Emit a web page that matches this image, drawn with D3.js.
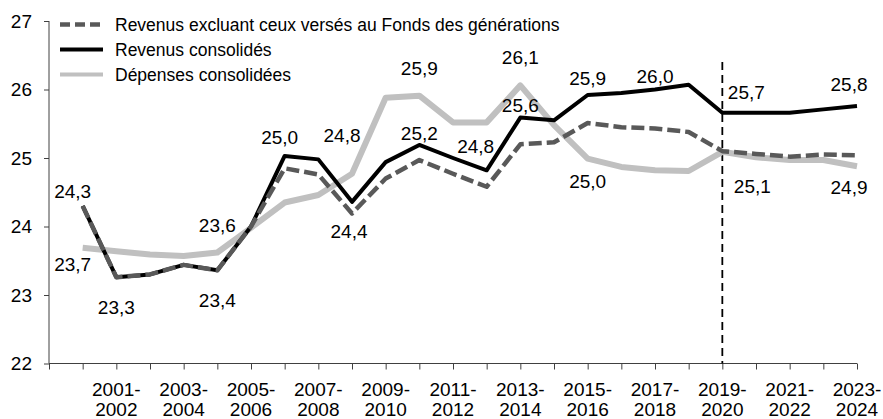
<!DOCTYPE html>
<html>
<head>
<meta charset="utf-8">
<script src="https://cdn.jsdelivr.net/npm/d3@7"></script>
<style>
  html, body { margin: 0; padding: 0; background: #fff; }
  svg { display: block; font-family: "Liberation Sans", Arial, Helvetica, sans-serif; }
</style>
</head>
<body>
<svg id="chart" width="883" height="419"></svg>
<script>
// Exercices budgétaires (en % du PIB)
const categories = [
  "2000-2001", "2001-2002", "2002-2003", "2003-2004", "2004-2005", "2005-2006",
  "2006-2007", "2007-2008", "2008-2009", "2009-2010", "2010-2011", "2011-2012",
  "2012-2013", "2013-2014", "2014-2015", "2015-2016", "2016-2017", "2017-2018",
  "2018-2019", "2019-2020", "2020-2021", "2021-2022", "2022-2023", "2023-2024"
];

const revenusExcluantFG = [
  24.30, 23.26, 23.30, 23.44, 23.36, 24.00, 24.85, 24.76, 24.19, 24.70, 24.97, 24.77,
  24.58, 25.20, 25.23, 25.51, 25.45, 25.43, 25.38, 25.10, 25.06, 25.02, 25.05, 25.04
];
const revenusConsolides = [
  24.30, 23.26, 23.30, 23.44, 23.36, 24.00, 25.03, 24.98, 24.36, 24.94, 25.19, 25.00,
  24.82, 25.59, 25.55, 25.92, 25.95, 26.00, 26.07, 25.66, 25.66, 25.66, 25.71, 25.76
];
const depensesConsolidees = [
  23.69, 23.64, 23.59, 23.57, 23.62, 23.98, 24.35, 24.46, 24.77, 25.88, 25.91, 25.52,
  25.52, 26.06, 25.48, 24.99, 24.87, 24.82, 24.81, 25.09, 25.01, 24.97, 24.97, 24.88
];

const seriesNames = [
  "Revenus excluant ceux versés au Fonds des générations",
  "Revenus consolidés",
  "Dépenses consolidées"
];

const yTicks = [22, 23, 24, 25, 26, 27];
// Years shown under the axis (every second year)
const xTickLabels = [
  "2001-2002", "2003-2004", "2005-2006", "2007-2008", "2009-2010", "2011-2012",
  "2013-2014", "2015-2016", "2017-2018", "2019-2020", "2021-2022", "2023-2024"
];
// Start of the forecast period
const forecastStart = "2019-2020";
const forecastLineTop = 26.4;

// Which points carry a value label, and where the label sits around its point
const labelled = [
  { s: 1, year: "2000-2001", dx: -10, dy: -8 },
  { s: 2, year: "2000-2001", dx: -10, dy: 23 },
  { s: 1, year: "2001-2002", dx: 0, dy: 37 },
  { s: 2, year: "2004-2005", dx: 0, dy: -21 },
  { s: 1, year: "2004-2005", dx: 0, dy: 37 },
  { s: 1, year: "2006-2007", dx: -5, dy: -12 },
  { s: 2, year: "2008-2009", dx: -10, dy: -32 },
  { s: 1, year: "2008-2009", dx: -3, dy: 36 },
  { s: 2, year: "2010-2011", dx: 0, dy: -21 },
  { s: 1, year: "2010-2011", dx: 0, dy: -5 },
  { s: 1, year: "2012-2013", dx: -11, dy: -17 },
  { s: 2, year: "2013-2014", dx: 0, dy: -21 },
  { s: 1, year: "2013-2014", dx: 0, dy: -6 },
  { s: 1, year: "2015-2016", dx: 0, dy: -10 },
  { s: 2, year: "2015-2016", dx: 0, dy: 29 },
  { s: 1, year: "2017-2018", dx: 0, dy: -7 },
  { s: 1, year: "2019-2020", dx: 24, dy: -14 },
  { s: 2, year: "2019-2020", dx: 30, dy: 41 },
  { s: 1, year: "2023-2024", dx: -8, dy: -15 },
  { s: 2, year: "2023-2024", dx: -8, dy: 28 }
];

const allSeries = [revenusExcluantFG, revenusConsolides, depensesConsolidees];
const seriesStyle = [
  { color: "#595959", width: 4.5, dash: "13,5", legendWidth: 4.5, legendDash: "10,5" },
  { color: "#000000", width: 4, dash: null, legendWidth: 4, legendDash: null },
  { color: "#c0c0c0", width: 6, dash: null, legendWidth: 4, legendDash: null }
];

const svg = d3.select("#chart");
const plotLeft = 49, plotRight = 857, plotTop = 21, plotBottom = 363.5;

// A leading empty slot keeps the first year one step right of the value axis
const x = d3.scalePoint().domain([""].concat(categories)).range([plotLeft, plotRight]).padding(0);
const y = d3.scaleLinear().domain([22, 27]).range([plotBottom, plotTop]);

const axisColor = "#404040";
const fmt = v => d3.format(".1f")(v).replace(".", ",");

// Value axis
const yAxis = svg.append("g")
  .attr("transform", `translate(${plotLeft},0)`)
  .call(d3.axisLeft(y).tickValues(yTicks).tickFormat(d => d).tickSize(5).tickPadding(12));
yAxis.select(".domain").attr("stroke", axisColor).attr("d", `M0,${plotTop}V${plotBottom}`);
yAxis.selectAll(".tick line").attr("stroke", axisColor);
yAxis.selectAll(".tick text").attr("font-size", 19).attr("fill", "#000");
yAxis.attr("font-family", null).attr("font-size", null);

// Category axis
const xAxis = svg.append("g")
  .attr("transform", `translate(0,${plotBottom})`)
  .call(d3.axisBottom(x).tickSize(6).tickFormat(() => ""));
xAxis.select(".domain").attr("stroke", axisColor).attr("d", `M${plotLeft},0H${plotRight}`);
xAxis.selectAll(".tick line").attr("stroke", axisColor);
xAxis.selectAll(".tick text").remove();

const xLabels = svg.append("g").attr("font-size", 19).attr("text-anchor", "middle");
xTickLabels.forEach(lbl => {
  const [a, b] = lbl.split("-");
  const t = xLabels.append("text").attr("x", x(lbl)).attr("y", 396);
  t.append("tspan").attr("x", x(lbl)).text(a + "-");
  t.append("tspan").attr("x", x(lbl)).attr("y", 416).text(b);
});

// Forecast separator
svg.append("line")
  .attr("x1", x(forecastStart)).attr("x2", x(forecastStart))
  .attr("y1", y(forecastLineTop)).attr("y2", plotBottom)
  .attr("stroke", "#000").attr("stroke-width", 1.8).attr("stroke-dasharray", "8,5");

// Series lines (expenses underneath, the dashed revenue series on top)
const line = d3.line().x((d, i) => x(categories[i])).y(d => y(d));
[2, 1, 0].forEach(s => {
  const st = seriesStyle[s];
  svg.append("path")
    .datum(allSeries[s])
    .attr("d", line)
    .attr("fill", "none")
    .attr("stroke", st.color)
    .attr("stroke-width", st.width)
    .attr("stroke-linejoin", "round")
    .attr("stroke-dasharray", st.dash);
});

// Value labels
svg.append("g").attr("font-size", 19).attr("text-anchor", "middle")
  .selectAll("text").data(labelled).join("text")
  .attr("x", d => x(d.year) + d.dx)
  .attr("y", d => y(allSeries[d.s][categories.indexOf(d.year)]) + d.dy)
  .text(d => fmt(allSeries[d.s][categories.indexOf(d.year)]));

// Legend
const legend = svg.append("g").attr("font-size", 17.5);
seriesNames.forEach((name, i) => {
  const cy = 24.5 + i * 25;
  const st = seriesStyle[i];
  legend.append("line")
    .attr("x1", 60).attr("x2", 103).attr("y1", cy).attr("y2", cy)
    .attr("stroke", st.color).attr("stroke-width", st.legendWidth)
    .attr("stroke-dasharray", st.legendDash);
  legend.append("text").attr("x", 115).attr("y", cy + 6.5).text(name);
});
</script>
</body>
</html>
